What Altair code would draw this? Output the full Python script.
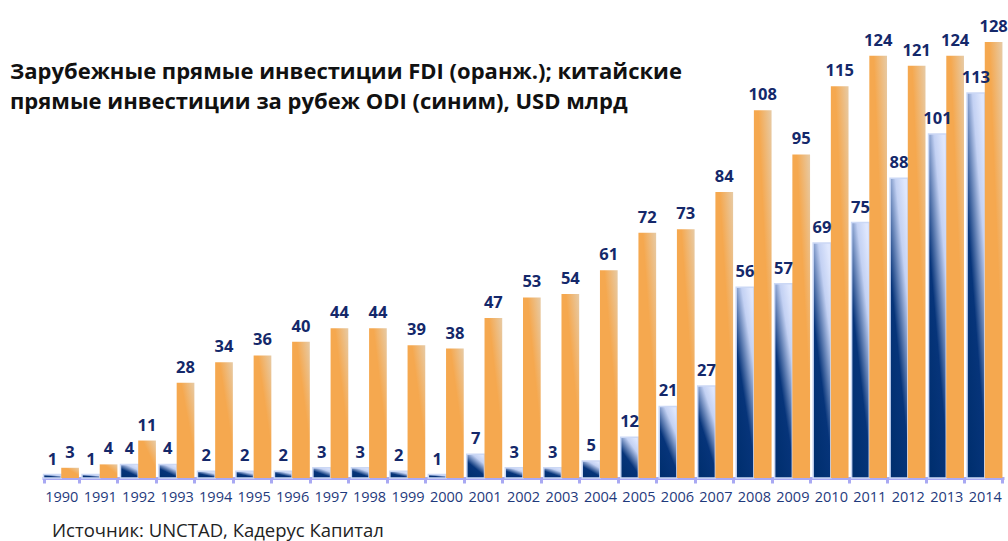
import altair as alt
import pandas as pd

years = [str(y) for y in range(1990, 2015)]
odi = [1, 1, 4, 4, 2, 2, 2, 3, 3, 2, 1, 7, 3, 3, 5, 12, 21, 27, 56, 57, 69, 75, 88, 101, 113]
fdi = [3, 4, 11, 28, 34, 36, 40, 44, 44, 39, 38, 47, 53, 54, 61, 72, 73, 84, 108, 95, 115, 124, 121, 124, 128]
series = ["ODI", "FDI"]
title_lines = "Зарубежные прямые инвестиции FDI (оранж.); китайские\nпрямые инвестиции за рубеж ODI (синим), USD млрд"
source_text = "Источник: UNCTAD, Кадерус Капитал"

rows = []
for i, y in enumerate(years):
    rows.append({"year": y, "series": "ODI", "value": odi[i]})
    rows.append({"year": y, "series": "FDI", "value": fdi[i]})
df = pd.DataFrame(rows)

NAVY = "#14286a"

x_enc = alt.X("year:N", sort=years, title=None,
              scale=alt.Scale(paddingInner=0.08, paddingOuter=0.04),
              axis=alt.Axis(labelAngle=0, labelColor="#1f3a7c", labelFontSize=14.5,
                            labelFont="Open Sans", labelPadding=7,
                            domainColor="#a9a9f3", domainWidth=3,
                            tickColor="#a9a9f3", tickWidth=3, tickSize=5,
                            tickBand="extent"))
xo_enc = alt.XOffset("series:N", sort=series, scale=alt.Scale(domain=series, paddingInner=0))
y_enc = alt.Y("value:Q", scale=alt.Scale(domain=[0, 128], nice=False), axis=None)

base = alt.Chart(df)

blue_grad = alt.LinearGradient(
    gradient="linear",
    stops=[alt.GradientStop(color="#002f6f", offset=0),
           alt.GradientStop(color="#06347a", offset=0.42),
           alt.GradientStop(color="#c3d1f3", offset=0.78),
           alt.GradientStop(color="#dfe7fd", offset=1)],
    x1=0.2, y1=1, x2=0.8, y2=0)
orange_grad = alt.LinearGradient(
    gradient="linear",
    stops=[alt.GradientStop(color="#f5a84f", offset=0),
           alt.GradientStop(color="#f5a84f", offset=0.62),
           alt.GradientStop(color="#e7cba6", offset=1)],
    x1=0, y1=1, x2=1, y2=0)

bars_blue = base.transform_filter(alt.datum.series == "ODI").mark_bar(
    color=blue_grad, stroke="#cbd8f5", strokeWidth=1.5
).encode(x=x_enc, xOffset=xo_enc, y=y_enc)

bars_orange = base.transform_filter(alt.datum.series == "FDI").mark_bar(
    color=orange_grad
).encode(x=x_enc, xOffset=xo_enc, y=y_enc)

labels = base.mark_text(
    font="Open Sans", fontWeight="bold", fontSize=16.5, color=NAVY,
    baseline="bottom", dy=-7
).encode(x=x_enc, xOffset=xo_enc, y=y_enc, text="value:Q")

title = alt.Chart(pd.DataFrame({"t": [title_lines]})).mark_text(
    font="Open Sans", fontWeight="bold", fontSize=22, color="#111111",
    align="left", baseline="alphabetic", lineBreak="\n", lineHeight=30
).encode(x=alt.value(-32), y=alt.value(37), text="t:N")

source = alt.Chart(pd.DataFrame({"t": [source_text]})).mark_text(
    font="Open Sans", fontSize=18.5, color="#222222",
    align="left", baseline="middle"
).encode(x=alt.value(10), y=alt.value(489), text="t:N")

chart = alt.layer(bars_blue, bars_orange, labels, title, source).properties(
    width=962, height=436, autosize="none",
    padding={"left": 42, "top": 42, "right": 4, "bottom": 63}
).configure_view(stroke=None)

chart.save("out.html", embed_options={"renderer": "svg", "actions": False})
